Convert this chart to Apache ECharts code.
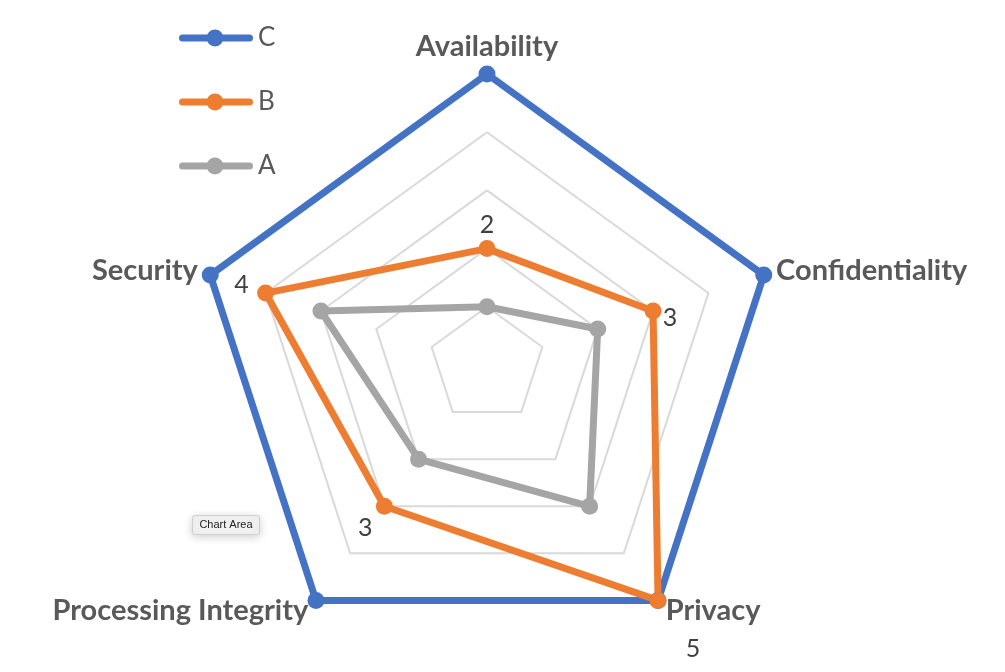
<!DOCTYPE html>
<html>
<head>
<meta charset="utf-8">
<script src="https://cdn.jsdelivr.net/npm/echarts@6/dist/echarts.min.js"></script>
<style>
html,body{margin:0;padding:0;background:#fff;}
#chart{width:1005px;height:672px;}
</style>
</head>
<body>
<div id="chart"></div>
<script>
// Indicators listed counter-clockwise starting at the top (ECharts radar order)
var indicators = ['Availability', 'Security', 'Processing Integrity', 'Privacy', 'Confidentiality'];
var seriesA = [1, 3, 2, 3, 2];
var seriesB = [2, 4, 3, 5, 3];
var seriesC = [5, 5, 5, 5, 5];
var legendNames = ['C', 'B', 'A'];
var maxValue = 5;

// label offsets (px) for the B data labels, one per indicator
var labelOffsets = [[0, -24], [-24, -8], [-19, 22], [35, 49], [17, 7]];

var colors = { A: '#A5A5A5', B: '#ED7D31', C: '#4472C4' };
var nameFont = 'Lato, "Open Sans", "Liberation Sans", sans-serif';
var legendIconPath = 'path://M3.5,5 L70.5,5 A3.5,3.5 0 0,1 70.5,12 L3.5,12 A3.5,3.5 0 0,1 3.5,5 Z M36,0 A8.5,8.5 0 1,1 36,17 A8.5,8.5 0 1,1 36,0 Z';

var chart = echarts.init(document.getElementById('chart'));

function item(name, values, color) {
  return {
    name: name,
    value: values,
    symbol: 'circle',
    symbolSize: 17,
    itemStyle: { color: color },
    lineStyle: { color: color, width: 7, cap: 'round', join: 'round' },
    label: { show: false }
  };
}

// one invisible item per labelled B point; other dimensions are missing
var labelItems = indicators.map(function (ind, i) {
  return {
    name: 'B-label-' + i,
    value: seriesB.map(function (v, j) { return j === i ? v : '-'; }),
    symbol: 'circle',
    symbolSize: 1,
    itemStyle: { color: 'rgba(0,0,0,0)' },
    lineStyle: { opacity: 0, width: 0 },
    label: {
      show: true,
      position: 'inside',
      offset: labelOffsets[i],
      color: '#404040',
      fontSize: 25,
      fontFamily: nameFont,
      textBorderWidth: 0
    }
  };
});

var option = {
  animation: false,
  backgroundColor: '#ffffff',
  legend: {
    orient: 'vertical',
    left: 179,
    top: 25,
    padding: 0,
    data: legendNames,
    icon: legendIconPath,
    itemWidth: 74,
    itemHeight: 17,
    itemGap: 38,
    itemTextGap: 5,
    selectedMode: false,
    textStyle: { color: '#595959', fontSize: 26, fontFamily: nameFont }
  },
  radar: {
    center: [487, 365],
    radius: 291,
    startAngle: 90,
    shape: 'polygon',
    splitNumber: 5,
    indicator: indicators.map(function (n) { return { name: n, min: 0, max: maxValue }; }),
    axisName: {
      color: '#595959',
      fontSize: 29,
      fontWeight: 'bold',
      fontFamily: nameFont
    },
    nameGap: 13,
    axisLine: { show: false },
    axisTick: { show: false },
    axisLabel: { show: false },
    splitArea: { show: false },
    splitLine: { lineStyle: { color: '#D9D9D9', width: 2 } }
  },
  series: [{
    type: 'radar',
    data: [
      item('C', seriesC, colors.C),
      item('A', seriesA, colors.A),
      item('B', seriesB, colors.B)
    ]
  }, {
    type: 'radar',
    silent: true,
    z: 5,
    data: labelItems
  }],
  graphic: [{
    type: 'group',
    left: 192,
    top: 515,
    children: [{
      type: 'rect',
      shape: { x: 0, y: 0, width: 67, height: 19, r: 2 },
      style: { fill: '#F2F2F2', stroke: '#CFCFCF', lineWidth: 1, shadowBlur: 8, shadowColor: 'rgba(0,0,0,0.18)', shadowOffsetY: 2 }
    }, {
      type: 'text',
      x: 33.5,
      y: 9.5,
      style: { text: 'Chart Area', fill: '#222222', font: '11px "Liberation Sans", Arial, sans-serif', align: 'center', verticalAlign: 'middle' }
    }]
  }]
};

chart.setOption(option);
</script>
</body>
</html>
